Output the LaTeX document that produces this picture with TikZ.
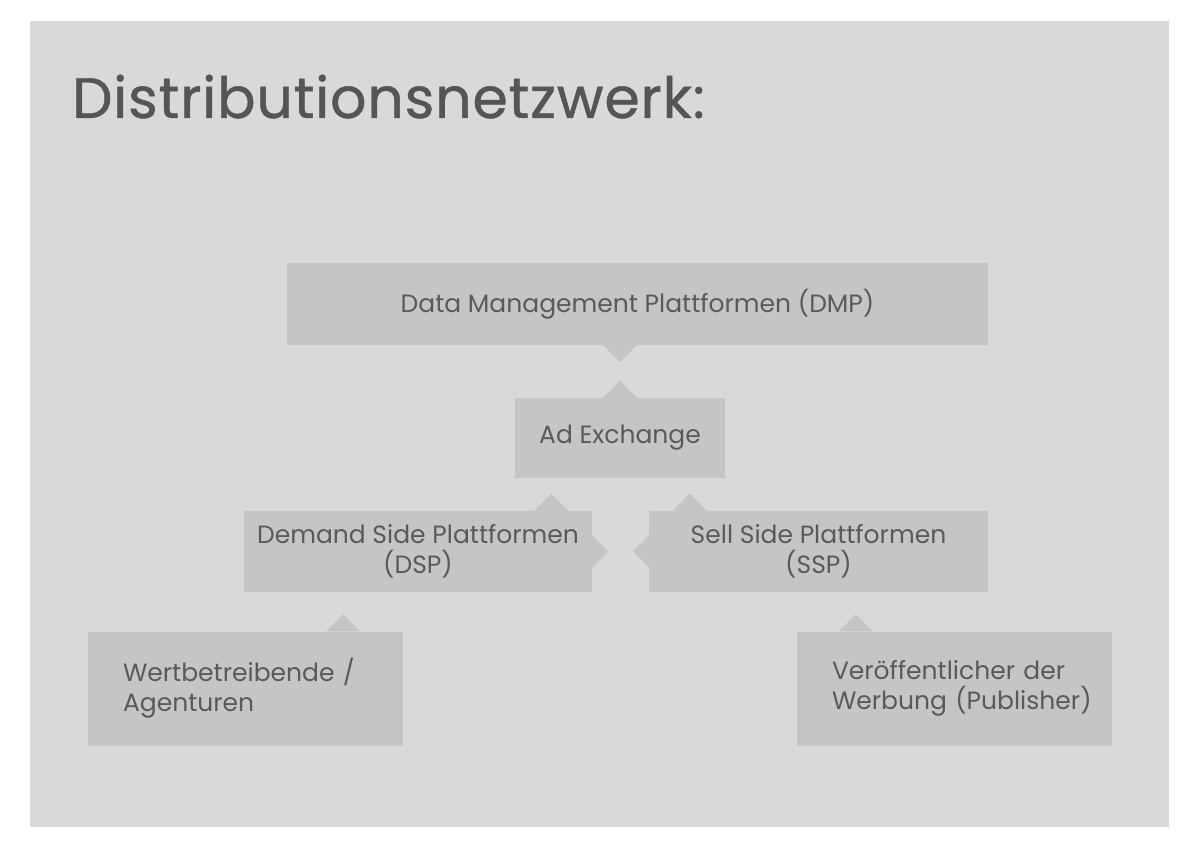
\documentclass[tikz,border=0pt]{standalone}
\usepackage{fontspec}
\setmainfont{Poppins}
\newfontfamily\titlefont[FakeBold=0.8,LetterSpace=1.4]{Poppins}
\usetikzlibrary{calc}
\definecolor{bg}{HTML}{D9D9D9}
\definecolor{boxc}{HTML}{C6C5C5}
\definecolor{txt}{HTML}{5A5A5A}
\definecolor{ttl}{HTML}{555555}
\begin{document}
\begin{tikzpicture}[x=1pt,y=-1pt,
  box/.style={fill=boxc, inner sep=0pt, text=txt, font=\fontsize{25}{30}\selectfont},
  leftbox/.style={box, minimum height=114pt, text width=245pt, inner xsep=35pt, align=left},
  notch/.style={fill=boxc}]
\useasboundingbox (0,0) rectangle (1200,848);
\fill[white] (0,0) rectangle (1200,848);
\fill[bg] (30,21) rectangle (1169,827);
\node[anchor=base west, inner sep=0pt, text=ttl, font=\titlefont\fontsize{57}{60}\selectfont] (title) at (72,118) {Distributionsnetzwerk:};
\node[box, minimum width=701pt, minimum height=82pt] (dmp) at (637.5,304) {Data Management Plattformen (DMP)};
\node[box, minimum width=210pt, minimum height=80pt] (ax) at (620,438) {Ad Exchange};
\node[box, minimum width=348pt, minimum height=81pt, align=center] (dsp) at (418,551.5) {Demand Side Plattformen\\(DSP)};
\node[box, minimum width=339pt, minimum height=81pt, align=center] (ssp) at (818.5,551.5) {Sell Side Plattformen\\(SSP)};
\node[leftbox] (wa) at (245.5,688.5) {\mbox{Wertbetreibende /}\\\mbox{Agenturen}};
\node[leftbox] (pub) at (954.5,688.5) {\mbox{Ver\"offentlicher der}\\\mbox{Werbung (Publisher)}};
% pointers
\fill[notch] ($(dmp.south -| ax.north)+(-17,0)$) -- ++(17,17) -- ++(17,-17) -- cycle;
\fill[notch] ($(ax.north)+(-17,0)$) -- ++(17,-17) -- ++(17,17) -- cycle;
\fill[notch] ($(dsp.north east)+(-58,0)$) -- ++(17,-17) -- ++(17,17) -- cycle;
\fill[notch] ($(dsp.east)+(0,-16)$) -- ++(16,16) -- ++(-16,16) -- cycle;
\fill[notch] ($(ssp.north west)+(24,0)$) -- ++(17,-17) -- ++(17,17) -- cycle;
\fill[notch] ($(ssp.west)+(0,-16)$) -- ++(-16,16) -- ++(16,16) -- cycle;
\fill[notch] ($(wa.north east)+(-77,0)$) -- ++(17,-17) -- ++(17,17) -- cycle;
\fill[notch] ($(pub.north west)+(42,0)$) -- ++(17,-17) -- ++(17,17) -- cycle;
\end{tikzpicture}
\end{document}
